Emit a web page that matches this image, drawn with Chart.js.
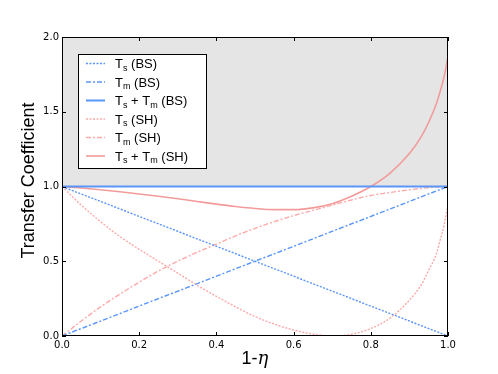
<!DOCTYPE html>
<html>
<head>
<meta charset="utf-8">
<script src="https://cdn.jsdelivr.net/npm/chart.js@4"></script>
<style>
  body { margin: 0; background: #fff; }
  canvas { display: block; }
</style>
</head>
<body>
<canvas id="myChart" width="498" height="374"></canvas>
<script>
const canvas = document.getElementById('myChart')

// values
const xVals = [0, 0.05, 0.1, 0.15, 0.2, 0.25, 0.3, 0.35, 0.4, 0.45, 0.5, 0.55, 0.6, 0.65, 0.7, 0.75, 0.8, 0.85, 0.9, 0.93, 0.95, 0.97, 0.98, 0.99, 0.995, 1.0]
const tsSH = [1.0, 0.875, 0.765, 0.665, 0.58, 0.5, 0.42, 0.34, 0.265, 0.195, 0.13, 0.08, 0.04, 0.013, 0.0, 0.012, 0.05, 0.12, 0.24, 0.34, 0.44, 0.55, 0.645, 0.74, 0.81, 0.87]
const tmSH = [0, 0.1, 0.195, 0.28, 0.36, 0.435, 0.5, 0.56, 0.615, 0.67, 0.72, 0.765, 0.805, 0.84, 0.875, 0.91, 0.94, 0.96, 0.978, 0.987, 0.992, 0.996, 0.998, 0.999, 1.0, 1.0]
const sumSH = [1.0, 0.99, 0.978, 0.965, 0.95, 0.935, 0.918, 0.9, 0.882, 0.866, 0.853, 0.845, 0.845, 0.857, 0.885, 0.935, 1.0, 1.09, 1.22, 1.33, 1.43, 1.555, 1.64, 1.735, 1.8, 1.87]

const bsX = [0, 0.5, 1]
const tsBS = [1, 0.5, 0]
const tmBS = [0, 0.5, 1]
const sumBS = [1, 1, 1]

const shadeX = [0, 1]
const shadeTop = [2, 2]

const xTicks = [0, 0.2, 0.4, 0.6, 0.8, 1.0]
const yTicks = [0, 0.5, 1.0, 1.5, 2.0]

const legendLabels = [
    [['T'], ['s', 1], [' (BS)']],
    [['T'], ['m', 1], [' (BS)']],
    [['T'], ['s', 1], [' + '], ['T'], ['m', 1], [' (BS)']],
    [['T'], ['s', 1], [' (SH)']],
    [['T'], ['m', 1], [' (SH)']],
    [['T'], ['s', 1], [' + '], ['T'], ['m', 1], [' (SH)']]
]

const blue = 'rgb(90, 150, 250)'
const pink = 'rgb(252, 170, 170)'
const pinkDark = 'rgb(243, 155, 155)'
const dotted = [2, 1.5]
const dashDot = [5, 2, 2, 2]

const pts = (xs, ys) => xs.map((x, i) => ({ x, y: ys[i] }))

const lineStyle = { pointRadius: 0, fill: false, order: 0 }

const extras = {
    id: 'extras',
    afterDraw(chart) {
        const ctx = chart.ctx
        const { left, right, top, bottom } = chart.chartArea
        const xs = chart.scales.x
        const ys = chart.scales.y
        ctx.save()

        // frame + inward ticks
        ctx.strokeStyle = '#000'
        ctx.lineWidth = 1
        ctx.strokeRect(left + 0.5, top + 0.5, right - left - 1, bottom - top - 1)
        ctx.beginPath()
        xTicks.forEach(v => {
            const px = Math.round(xs.getPixelForValue(v)) + 0.5
            ctx.moveTo(px, bottom); ctx.lineTo(px, bottom - 4)
            ctx.moveTo(px, top); ctx.lineTo(px, top + 4)
        })
        yTicks.forEach(v => {
            const py = Math.round(ys.getPixelForValue(v)) + 0.5
            ctx.moveTo(left, py); ctx.lineTo(left + 4, py)
            ctx.moveTo(right, py); ctx.lineTo(right - 4, py)
        })
        ctx.stroke()

        // legend
        const lx = 78, ly = 54, lw = 128, lh = 114
        ctx.fillStyle = '#fff'
        ctx.fillRect(lx, ly, lw, lh)
        ctx.strokeRect(lx + 0.5, ly + 0.5, lw, lh)
        const metas = chart.data.datasets.slice(0, 6)
        metas.forEach((ds, i) => {
            const cy = 63.5 + i * 18.5
            ctx.strokeStyle = ds.borderColor
            ctx.lineWidth = ds.borderWidth
            ctx.setLineDash(ds.borderDash || [])
            ctx.beginPath()
            ctx.moveTo(86, cy); ctx.lineTo(105, cy)
            ctx.stroke()
            ctx.setLineDash([])
            let tx = 115
            ctx.fillStyle = '#000'
            ctx.textBaseline = 'alphabetic'
            ctx.textAlign = 'left'
            legendLabels[i].forEach(([t, sub]) => {
                ctx.font = sub ? '9px "Liberation Sans"' : '13px "Liberation Sans"'
                ctx.fillText(t, tx, cy + (sub ? 7 : 4.5))
                tx += ctx.measureText(t).width
            })
        })

        // axis titles
        ctx.fillStyle = '#000'
        ctx.save()
        ctx.translate(34, (top + bottom) / 2 - 6)
        ctx.rotate(-Math.PI / 2)
        ctx.font = '18px "Liberation Sans"'
        ctx.textAlign = 'center'
        ctx.fillText('Transfer Coefficient', 0, 0)
        ctx.restore()

        ctx.font = '18px "Liberation Sans"'
        const a = '1-'
        ctx.textAlign = 'left'
        const wa = ctx.measureText(a).width
        ctx.font = 'italic 18px "DejaVu Serif"'
        const wb = ctx.measureText('η').width
        const sx = (left + right) / 2 - (wa + wb) / 2
        ctx.font = '18px "Liberation Sans"'
        ctx.fillText(a, sx, 364)
        ctx.font = 'italic 18px "DejaVu Serif"'
        ctx.fillText('η', sx + wa, 364)

        ctx.restore()
    }
}

const config = {
    type: 'line',
    data: {
        datasets: [
            { ...lineStyle, label: 'Ts (BS)', data: pts(bsX, tsBS), borderColor: blue, borderWidth: 1.4, borderDash: dotted },
            { ...lineStyle, label: 'Tm (BS)', data: pts(bsX, tmBS), borderColor: blue, borderWidth: 1.4, borderDash: dashDot },
            { ...lineStyle, label: 'Ts+Tm (BS)', data: pts(bsX, sumBS), borderColor: blue, borderWidth: 2 },
            { ...lineStyle, label: 'Ts (SH)', data: pts(xVals, tsSH), borderColor: pink, borderWidth: 1.4, borderDash: dotted, cubicInterpolationMode: 'monotone' },
            { ...lineStyle, label: 'Tm (SH)', data: pts(xVals, tmSH), borderColor: pink, borderWidth: 1.4, borderDash: dashDot, cubicInterpolationMode: 'monotone' },
            { ...lineStyle, label: 'Ts+Tm (SH)', data: pts(xVals, sumSH), borderColor: pinkDark, borderWidth: 1.6, cubicInterpolationMode: 'monotone' },
            { label: 'shade', data: pts(shadeX, shadeTop), fill: { value: 1 }, backgroundColor: 'rgb(229, 229, 229)', borderWidth: 0, pointRadius: 0, order: 1 }
        ]
    },
    options: {
        responsive: false,
        animation: false,
        layout: { padding: { left: 0, top: 37, right: 50, bottom: 0 } },
        plugins: { legend: { display: false }, tooltip: { enabled: false } },
        scales: {
            x: {
                type: 'linear', min: 0, max: 1,
                afterFit: s => { s.height = 38 },
                afterBuildTicks: s => { s.ticks = xTicks.map(v => ({ value: v })) },
                grid: { display: false, drawTicks: false }, border: { display: false },
                ticks: { padding: 3, color: '#000', font: { family: 'DejaVu Sans', size: 10 }, maxRotation: 0, callback: v => v.toFixed(1) }
            },
            y: {
                min: 0, max: 2,
                afterFit: s => { s.width = 62 },
                afterBuildTicks: s => { s.ticks = yTicks.map(v => ({ value: v })) },
                grid: { display: false, drawTicks: false }, border: { display: false },
                ticks: { padding: 3, color: '#000', font: { family: 'DejaVu Sans', size: 10 }, callback: v => v.toFixed(1) }
            }
        }
    },
    plugins: [extras]
}

new Chart(canvas, config)
</script>
</body>
</html>
